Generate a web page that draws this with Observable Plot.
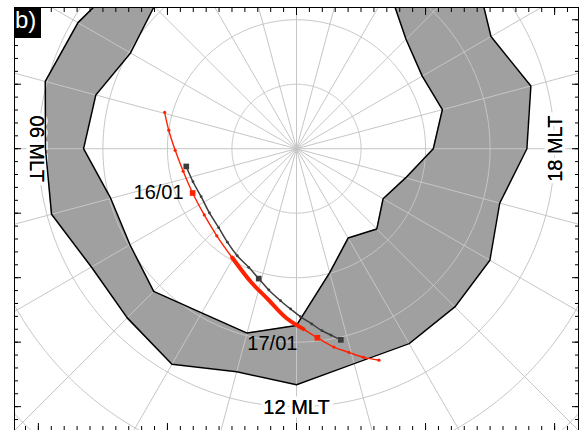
<!DOCTYPE html>
<html><head><meta charset="utf-8">
<script src="https://cdn.jsdelivr.net/npm/d3@7"></script>
<script src="https://cdn.jsdelivr.net/npm/@observablehq/plot@0.6"></script>
<style>
html,body{margin:0;padding:0;background:#fff;}
#wrap{position:relative;width:580px;height:430px;overflow:hidden;}
#tag{position:absolute;left:14px;top:7px;width:27px;height:31px;background:#000;color:#fff;
 font:24px "Liberation Sans",Arial,sans-serif;line-height:25px;padding-left:1px;box-sizing:border-box;z-index:2;}
</style></head>
<body><div id="wrap"><div id="tag">b)</div></div>
<script>
// ---- data (MLT hours, magnetic latitude degrees) ----
const ovalMLT     = [0,1,2,3,4,5,6,7,8,9,10,11,12,13,14,15,16,17,18,19,20,21,22,23];
const ovalPoleLat = [62,61.5,60.5,58.8,60.3,57.8,57.0,60.2,60.2,58.7,60.6,60.4,62.6,70.1,74.0,72.4,74.5,72.5,68.8,66.6,67.5,66.0,61.4,62];
const ovalEqLat   = [50,50,51,52.3,50.9,49.7,51.1,50.7,53.3,52.9,51.4,54.2,53.4,55.5,55.1,55.3,55.4,57.4,54.3,52.4,55.2,50.9,50,50];

const redLineMLT = [4.97,5.45,6.05,6.75,7.54,8.38,9.17,9.96,10.76,11.27,11.77,12.15,12.42,12.71,12.96,13.19,13.42];
const redLineLat = [68.8,70.0,71.2,72.1,72.5,72.4,71.7,70.4,68.1,66.3,63.7,62.0,60.5,58.7,57.4,56.0,54.8];
const redDenseMLT = [9.96,10.76,11.27,11.77,12.15];
const redDenseLat = [70.4,68.1,66.3,63.7,62.0];
const redDotMLT = [4.97,5.45,6.05,6.75,8.38,9.17,12.71,12.96,13.19,13.42];
const redDotLat = [68.8,70.0,71.2,72.1,72.4,71.7,58.7,57.4,56.0,54.8];
const redDayMLT = [7.54,12.42];
const redDayLat = [72.5,60.5];
const dayLabels = ["16/01","17/01"];

const grayMLT = [6.61,7.18,7.78,8.43,9.03,9.57,10.07,10.54,10.92,11.26,11.6,11.86,12.09,12.33,12.53,12.7,12.87];
const grayLat = [72.7,73.16,73.46,73.23,72.82,71.98,71.03,70.17,69.02,67.68,66.3,65.13,63.95,62.73,61.5,60.59,59.57];
const graySqMLT = [6.61,10.92,12.87];
const graySqLat = [72.7,69.02,59.57];

const gridColat = [10,20,30,40,50,60];
const gridHours = [0,1,2,3,4,5,6,7,8,9,10,11,12,13,14,15,16,17,18,19,20,21,22,23];
const mltLabels = ["06 MLT","12 MLT","18 MLT"];
const mltLabelHour = [6,12,18];
const mltLabelLat = [49.75,49.8,49.8];

const xMajor = [-40,-20,0,20,40];
const xMinor = d3.range(-42,43,2);
const yMajor = [-40,-30,-20,-10,0,10,20];
const yMinor = d3.range(-42,22,2);

// ---- polar -> plane ----
const toXY = (mlt, lat) => { const r = 90 - lat, a = mlt*Math.PI/12; return {x: -r*Math.sin(a), y: r*Math.cos(a)}; };

const ring = ovalMLT.concat([24]).map((h,i) => {
  const k = i % 24;
  const o = toXY(h, ovalEqLat[k]), p = toXY(h, ovalPoleLat[k]);
  return {ox:o.x, oy:o.y, ix:p.x, iy:p.y};
});
const bounds = [
  ...ovalMLT.map((h,i)=>({...toXY(h, ovalEqLat[i]), z:"eq"})),
  ...ovalMLT.map((h,i)=>({...toXY(h, ovalPoleLat[i]), z:"pole"}))
];
const circles = gridColat.flatMap(c => d3.range(0, 24.001, 0.05).map(h => ({...toXY(h, 90-c), c})));
const spokes = gridHours.map(h => ({x1:0, y1:0, x2: toXY(h, 15).x, y2: toXY(h, 15).y}));

const redLine = redLineMLT.map((h,i)=>toXY(h, redLineLat[i]));
const redDense = redDenseMLT.map((h,i)=>toXY(h, redDenseLat[i]));
const redDots = redDotMLT.map((h,i)=>toXY(h, redDotLat[i]));
const redDays = redDayMLT.map((h,i)=>({...toXY(h, redDayLat[i]), label: dayLabels[i]}));
const grayLine = grayMLT.map((h,i)=>toXY(h, grayLat[i]));
const graySq = graySqMLT.map((h,i)=>toXY(h, graySqLat[i]));
const labels = mltLabels.map((t,i)=>({...toXY(mltLabelHour[i], mltLabelLat[i]), t, h: mltLabelHour[i]}));

const RED = "#ff2200", DARK = "#3c3c3c", GRID = "#c6c6c6";
const none = () => "";
const rot = d => d.h===6 ? 90 : d.h===18 ? -90 : 0;

const chart = Plot.plot({
  width: 580, height: 430,
  marginLeft: 14, marginRight: 2, marginTop: 7, marginBottom: 0,
  x: {domain: [-43.7, 43.7], label: null},
  y: {domain: [-43.7, 21.9], label: null},
  style: {fontFamily: "'Liberation Sans', Arial, sans-serif", background: "white", overflow: "visible"},
  marks: [
    Plot.area(ring, {x1:"ox", y1:"oy", x2:"ix", y2:"iy", fill:"#a0a0a0", clip:true}),
    Plot.line(circles, {x:"x", y:"y", z:"c", stroke:GRID, strokeWidth:1, clip:true}),
    Plot.link(spokes, {x1:"x1", y1:"y1", x2:"x2", y2:"y2", stroke:GRID, strokeWidth:1, clip:true}),
    Plot.text(labels, {x:"x", y:"y", text:"t", rotate: rot,
      fontSize:20, fill:"black", stroke:"white", strokeWidth:7, strokeLinejoin:"miter"}),
    Plot.line(bounds, {x:"x", y:"y", z:"z", curve:"linear-closed", stroke:"black", strokeWidth:1.5, clip:true}),
    Plot.text(labels, {x:"x", y:"y", text:"t", rotate: rot, fontSize:20, fill:"black"}),
    Plot.line(grayLine, {x:"x", y:"y", curve:"catmull-rom", stroke:DARK, strokeWidth:1.5}),
    Plot.dot(grayLine, {x:"x", y:"y", r:1.4, fill:DARK, stroke:null}),
    Plot.dot(graySq, {x:"x", y:"y", symbol:"square", r:3.2, fill:DARK, stroke:null}),
    Plot.line(redLine, {x:"x", y:"y", curve:"catmull-rom", stroke:RED, strokeWidth:1.4}),
    Plot.line(redDense, {x:"x", y:"y", curve:"catmull-rom", stroke:RED, strokeWidth:4}),
    Plot.dot(redDots, {x:"x", y:"y", r:1.6, fill:RED, stroke:null}),
    Plot.dot(redDays, {x:"x", y:"y", symbol:"square", r:3.2, fill:RED, stroke:null}),
    Plot.text(redDays.slice(0,1), {x:"x", y:"y", text:"label", textAnchor:"end", dx:-9, dy:0, fontSize:20, fill:"black"}),
    Plot.text(redDays.slice(1,2), {x:"x", y:"y", text:"label", textAnchor:"end", dx:-20, dy:6, fontSize:20, fill:"black"}),
    Plot.frame({stroke:"black", strokeWidth:1}),
    Plot.axisX(xMajor, {anchor:"bottom", tickSize:-7, tickFormat:none, label:null}),
    Plot.axisX(xMinor, {anchor:"bottom", tickSize:-4, tickFormat:none, label:null}),
    Plot.axisX(xMajor, {anchor:"top", tickSize:-7, tickFormat:none, label:null}),
    Plot.axisX(xMinor, {anchor:"top", tickSize:-4, tickFormat:none, label:null}),
    Plot.axisY(yMajor, {anchor:"left", tickSize:-7, tickFormat:none, label:null}),
    Plot.axisY(yMinor, {anchor:"left", tickSize:-4, tickFormat:none, label:null}),
    Plot.axisY(yMajor, {anchor:"right", tickSize:-7, tickFormat:none, label:null}),
    Plot.axisY(yMinor, {anchor:"right", tickSize:-4, tickFormat:none, label:null})
  ]
});
document.getElementById("wrap").prepend(chart);
</script>
</body></html>
